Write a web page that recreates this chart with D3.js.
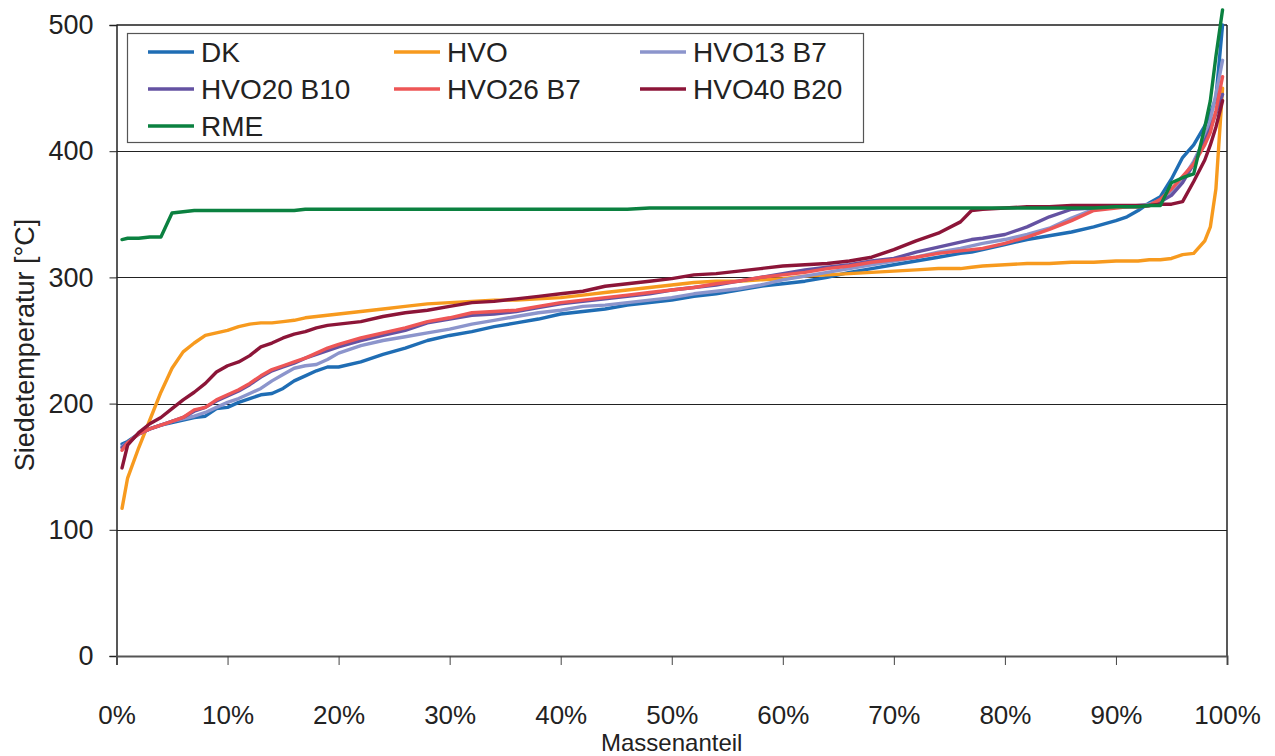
<!DOCTYPE html>
<html><head><meta charset="utf-8">
<script src="https://cdn.jsdelivr.net/npm/d3@7"></script>
<style>body{margin:0;background:#fff}svg{display:block}text{font-family:"Liberation Sans",Arial,sans-serif;fill:#222}</style>
</head><body>
<svg id="c" width="1275" height="756"></svg>
<script>
const X = [0.5,1,2,3,4,5,6,7,8,9,10,11,12,13,14,15,16,17,18,19,20,22,24,26,28,30,32,34,36,38,40,42,44,46,48,50,52,54,56,58,60,62,64,66,68,70,72,74,76,77,78,80,82,84,86,88,90,91,92,93,94,95,96,97,98,98.5,99,99.6];
const DK = [168,170,176,180,183,185,187,189,190,196,197,201,204,207,208,212,218,222,226,229,229,233,239,244,250,254,257,261,264,267,271,273,275,278,280,282,285,287,290,293,295,297,300,304,307,310,313,316,319,320,322,326,330,333,336,340,345,348,353,359,364,378,395,405,420,430,442,500];
const HVO = [117,141,165,187,209,228,241,248,254,256,258,261,263,264,264,265,266,268,269,270,271,273,275,277,279,280,281,282,282,283,284,286,288,290,292,294,296,297,297,298,299,301,302,303,304,305,306,307,307,308,309,310,311,311,312,312,313,313,313,314,314,315,318,319,329,340,370,450];
const HVO13B7 = [166,169,176,180,183,186,188,190,193,197,201,204,208,212,218,223,228,230,231,235,240,246,250,253,256,259,263,266,269,272,274,277,278,280,282,284,287,289,291,294,298,301,304,307,310,313,316,320,323,325,327,330,334,339,347,354,356,356,357,358,361,367,378,392,410,425,445,472];
const HVO20B10 = [165,169,176,180,183,186,189,194,197,202,206,210,215,221,226,229,232,236,239,242,245,250,254,258,264,267,270,271,273,276,279,281,283,285,287,290,292,294,297,300,303,306,308,310,313,315,320,324,328,330,331,334,340,348,354,355,356,356,356,357,360,365,375,390,408,418,430,445];
const HVO26B7 = [163,169,176,180,183,186,189,195,197,203,207,211,216,222,227,230,233,236,240,244,247,252,256,260,265,268,272,273,274,277,280,282,284,286,288,290,292,295,297,300,302,304,307,309,312,314,316,319,321,322,323,327,332,338,345,353,355,356,356,357,362,370,380,390,405,415,432,459];
const HVO40B20 = [149,167,177,184,189,196,203,209,216,225,230,233,238,245,248,252,255,257,260,262,263,265,269,272,274,277,280,281,283,285,287,289,293,295,297,299,302,303,305,307,309,310,311,313,316,322,329,335,344,353,354,355,356,356,357,357,357,357,357,357,358,358,360,376,393,405,419,440];
const RME = [330,331,331,332,332,351,352,353,353,353,353,353,353,353,353,353,353,354,354,354,354,354,354,354,354,354,354,354,354,354,354,354,354,354,355,355,355,355,355,355,355,355,355,355,355,355,355,355,355,355,355,355,355,355,355,355,356,356,356,357,357,375,379,382,419,440,475,512];
const seriesNames = ["DK","HVO","HVO13 B7","HVO20 B10","HVO26 B7","HVO40 B20","RME"];
const seriesValues = [DK,HVO,HVO13B7,HVO20B10,HVO26B7,HVO40B20,RME];
const colors = ["#1f6db4","#f79a1e","#8c95cc","#6452a2","#ee5656","#8c1538","#0b8140"];
const yTicks = [0,100,200,300,400,500];
const xTicks = [0,10,20,30,40,50,60,70,80,90,100];

const svg = d3.select("#c");
const L=116.5, R=1227, T=25, B=656;
const x = d3.scaleLinear().domain([0,100]).range([L,R]);
const y = d3.scaleLinear().domain([0,500]).range([B,T]);

// gridlines
svg.append("g").selectAll("line").data([100,200,300,400]).join("line")
  .attr("x1",L).attr("x2",R).attr("y1",d=>Math.round(y(d))+0.5).attr("y2",d=>Math.round(y(d))+0.5)
  .attr("stroke","#222").attr("stroke-width",1.2);
// top & right border
svg.append("line").attr("x1",L).attr("x2",R).attr("y1",T).attr("y2",T).attr("stroke","#555").attr("stroke-width",2);
svg.append("line").attr("x1",R).attr("x2",R).attr("y1",T).attr("y2",B).attr("stroke","#222").attr("stroke-width",1.5);

// axes
const yAxis = d3.axisLeft(y).tickValues(yTicks).tickSize(7).tickPadding(16).tickFormat(d3.format("d"));
const gy = svg.append("g").attr("transform",`translate(${L},0)`).call(yAxis);
gy.select(".domain").attr("stroke","#222").attr("stroke-width",1.5);
gy.selectAll(".tick line").attr("stroke","#222");
gy.selectAll("text").attr("font-size",27).attr("fill","#222").attr("font-family","Liberation Sans, Arial, sans-serif");

const xAxis = d3.axisBottom(x).tickValues(xTicks).tickSize(9).tickPadding(41).tickFormat(d=>d+"%");
const gx = svg.append("g").attr("transform",`translate(0,${B})`).call(xAxis);
gx.select(".domain").attr("stroke","#555").attr("stroke-width",2);
gx.selectAll(".tick line").attr("stroke","#444");
gx.selectAll("text").attr("font-size",26).attr("fill","#222").attr("font-family","Liberation Sans, Arial, sans-serif");

// titles
svg.append("text").attr("x",(L+R)/2).attr("y",751).attr("text-anchor","middle").attr("font-size",24).text("Massenanteil");
svg.append("text").attr("transform","translate(34,345) rotate(-90)").attr("text-anchor","middle").attr("font-size",27).text("Siedetemperatur [°C]");

// lines
const line = d3.line().x((d,i)=>x(X[i])).y(d=>y(d)).curve(d3.curveLinear);
seriesValues.forEach((vals,k)=>{
  svg.append("path").datum(vals).attr("d",line).attr("fill","none")
    .attr("stroke",colors[k]).attr("stroke-width",3.4).attr("stroke-linejoin","round").attr("stroke-linecap","round");
});

// legend
const lg = svg.append("g");
lg.append("rect").attr("x",127.5).attr("y",33.5).attr("width",736).attr("height",109).attr("fill","#fff").attr("stroke","#555").attr("stroke-width",1.2);
const colX = [148,394,640], rowY = [52,89,126];
seriesNames.forEach((n,k)=>{
  const cx = colX[k%3], cy = rowY[Math.floor(k/3)];
  lg.append("line").attr("x1",cx).attr("x2",cx+46).attr("y1",cy).attr("y2",cy).attr("stroke",colors[k]).attr("stroke-width",3.5);
  lg.append("text").attr("x",cx+53).attr("y",cy).attr("dy","0.36em").attr("font-size",28).text(n);
});
</script>
</body></html>
